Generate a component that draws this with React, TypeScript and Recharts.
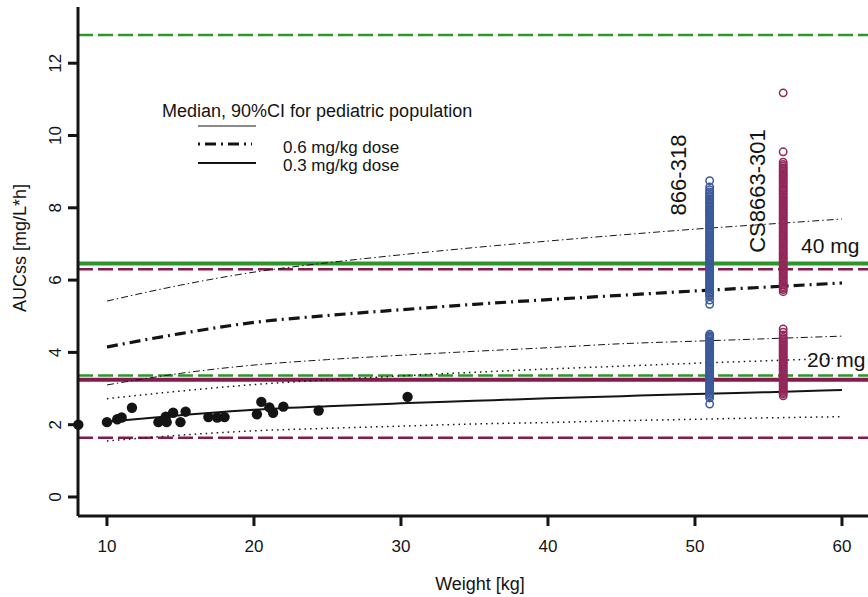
import { ComposedChart, Line, ReferenceLine, Scatter, XAxis, YAxis } from 'recharts'

const FONT = '"Liberation Sans", Arial, Helvetica, sans-serif'
const INK = '#141414'
const GREEN = '#2c962c'
const MAROON = '#861a4e'
const BLUE_RING = '#3b5a9a'
const ROSE_RING = '#92285a'

const X_TICKS = [10, 20, 30, 40, 50, 60]
const Y_TICKS = [0, 2, 4, 6, 8, 10, 12]
const X_DOMAIN: [number, number] = [8.03, 61.77]
const Y_DOMAIN: [number, number] = [-0.526, 13.555]

// simulated pediatric curves (weight grid shared by all six)
const CURVE_WEIGHTS = [10, 15, 20, 25, 30, 35, 40, 45, 50, 55, 60]
const MEDIAN_06 = [4.15, 4.52, 4.83, 5.02, 5.18, 5.33, 5.46, 5.58, 5.7, 5.81, 5.92]
const UPPER_06 = [5.42, 5.86, 6.22, 6.48, 6.7, 6.9, 7.08, 7.25, 7.41, 7.55, 7.69]
const LOWER_06 = [3.1, 3.42, 3.65, 3.8, 3.92, 4.03, 4.13, 4.24, 4.31, 4.38, 4.45]
const MEDIAN_03 = [2.08, 2.26, 2.41, 2.51, 2.59, 2.66, 2.73, 2.79, 2.85, 2.9, 2.96]
const UPPER_03 = [2.72, 2.93, 3.11, 3.24, 3.35, 3.45, 3.54, 3.62, 3.7, 3.77, 3.84]
const LOWER_03 = [1.55, 1.71, 1.83, 1.9, 1.96, 2.02, 2.06, 2.11, 2.15, 2.19, 2.22]

// observed pediatric subjects
const OBS_WEIGHT = [8.05, 10.0, 10.7, 11.0, 11.7, 13.5, 14.0, 14.06, 14.5, 15.0, 15.35, 16.9, 17.5, 18.0, 20.2, 20.5, 21.05, 21.3, 22.0, 24.4, 30.45]
const OBS_AUC = [2.0, 2.07, 2.15, 2.2, 2.47, 2.07, 2.22, 2.07, 2.33, 2.07, 2.36, 2.21, 2.2, 2.21, 2.29, 2.63, 2.48, 2.33, 2.5, 2.39, 2.77]

// adult studies, plotted at a nominal weight
const STUDY_318_WEIGHT = 51.0
const STUDY_318_40MG = [
  8.75, 8.58, 8.5, 8.44, 8.39, 8.34, 8.3, 8.25, 8.22, 8.17, 8.14, 8.09, 8.05, 8.01, 7.97, 7.93, 7.9, 7.86, 7.82, 7.78, 7.74, 7.7,
  7.66, 7.61, 7.57, 7.53, 7.5, 7.45, 7.41, 7.37, 7.33, 7.29, 7.25, 7.21, 7.17, 7.13, 7.09, 7.04, 7.0, 6.96, 6.92, 6.88, 6.84, 6.8,
  6.76, 6.72, 6.68, 6.64, 6.6, 6.56, 6.52, 6.48, 6.44, 6.4, 6.36, 6.31, 6.27, 6.23, 6.19, 6.15, 6.11, 6.07, 6.03, 5.99, 5.95, 5.91,
  5.87, 5.83, 5.79, 5.75, 5.71, 5.67, 5.63, 5.59, 5.55, 5.45, 5.33,
]
const STUDY_318_20MG = [
  4.5, 4.46, 4.43, 4.39, 4.36, 4.32, 4.28, 4.24, 4.2, 4.16, 4.12, 4.08, 4.04, 4.0, 3.97, 3.93, 3.89, 3.85, 3.81, 3.77, 3.73, 3.7,
  3.66, 3.62, 3.58, 3.54, 3.5, 3.46, 3.42, 3.38, 3.35, 3.31, 3.27, 3.23, 3.19, 3.15, 3.11, 3.07, 3.04, 3.0, 2.96, 2.92, 2.88, 2.84,
  2.8, 2.74, 2.57,
]
const STUDY_301_WEIGHT = 56.0
const STUDY_301_40MG = [
  11.18, 9.55, 9.26, 9.2, 9.15, 9.1, 9.06, 9.01, 8.97, 8.92, 8.88, 8.84, 8.8, 8.75, 8.71, 8.66, 8.62, 8.57, 8.53, 8.49, 8.45, 8.4,
  8.36, 8.31, 8.27, 8.22, 8.18, 8.14, 8.1, 8.05, 8.01, 7.96, 7.92, 7.88, 7.83, 7.79, 7.75, 7.7, 7.66, 7.61, 7.57, 7.53, 7.48, 7.44,
  7.4, 7.35, 7.31, 7.26, 7.22, 7.18, 7.13, 7.09, 7.05, 7.0, 6.96, 6.91, 6.87, 6.83, 6.78, 6.74, 6.7, 6.65, 6.61, 6.57, 6.52, 6.48,
  6.43, 6.39, 6.35, 6.3, 6.26, 6.21, 6.17, 6.13, 6.08, 6.04, 6.0, 5.95, 5.91, 5.87, 5.82, 5.78, 5.74, 5.68,
]
const STUDY_301_20MG = [
  4.65, 4.56, 4.48, 4.41, 4.37, 4.33, 4.29, 4.25, 4.21, 4.17, 4.13, 4.09, 4.05, 4.01, 3.97, 3.93, 3.89, 3.85, 3.81, 3.77, 3.73,
  3.69, 3.65, 3.61, 3.57, 3.53, 3.49, 3.45, 3.41, 3.37, 3.33, 3.29, 3.25, 3.21, 3.17, 3.13, 3.09, 3.05, 3.01, 2.97, 2.93, 2.89,
  2.85, 2.8,
]

// adult reference levels: 90% range (dashed) and median (solid)
const ADULT_40MG = { high: 12.78, median: 6.46, low: 6.3 }
const ADULT_20MG = { high: 3.36, median: 3.24, low: 1.64 }

const curve = (vals: number[]) => CURVE_WEIGHTS.map((w, i) => ({ w, v: vals[i] }))
const column = (w: number, vals: number[]) => vals.map((v) => ({ w, v }))
const observed = OBS_WEIGHT.map((w, i) => ({ w, v: OBS_AUC[i] }))

const filledDot = (p: any) => <circle cx={p.cx} cy={p.cy} r={5.2} fill={INK} />
const ring = (color: string) => (p: any) => <circle cx={p.cx} cy={p.cy} r={3.7} fill="none" stroke={color} strokeWidth={1.5} />

function YTick({ x, y, payload }: any) {
  const tx = x - 5
  return (
    <text x={tx} y={y} transform={`rotate(-90 ${tx} ${y})`} textAnchor="middle" fontSize={17} fontFamily={FONT} fill={INK}>
      {payload.value}
    </text>
  )
}

const TICK_STYLE = { fontSize: 17, fontFamily: FONT, fill: INK }
const FRAME = { stroke: INK, strokeWidth: 3 }

function Annotations() {
  const t = { fontFamily: FONT, fill: INK }
  return (
    <svg width={868} height={597} style={{ position: 'absolute', left: 0, top: 0, pointerEvents: 'none' }}>
      <text x={26} y={248} transform="rotate(-90 26 248)" textAnchor="middle" fontSize={18} {...t}>AUCss [mg/L*h]</text>
      <text x={480} y={590} textAnchor="middle" fontSize={18} {...t}>Weight [kg]</text>

      <text x={162} y={117} fontSize={18} {...t}>Median, 90%CI for pediatric population</text>
      <line x1={198} x2={256} y1={126} y2={126} stroke={INK} strokeWidth={1} />
      <line x1={198} x2={252} y1={144} y2={144} stroke={INK} strokeWidth={3.2} strokeDasharray="2 5 11 5" />
      <line x1={198} x2={256} y1={163} y2={163} stroke={INK} strokeWidth={2} />
      <text x={283} y={153} fontSize={17} {...t}>0.6 mg/kg dose</text>
      <text x={283} y={171} fontSize={17} {...t}>0.3 mg/kg dose</text>

      <text x={686} y={175} transform="rotate(-90 686 175)" textAnchor="middle" fontSize={22} {...t}>866-318</text>
      <text x={765} y={191} transform="rotate(-90 765 191)" textAnchor="middle" fontSize={22} {...t}>CS8663-301</text>
      <text x={801} y={253} fontSize={21} {...t}>40 mg</text>
      <text x={807} y={367} fontSize={21} {...t}>20 mg</text>
    </svg>
  )
}

export default function App() {
  return (
    <div style={{ position: 'absolute', left: 0, top: 0, width: 868, height: 597, background: '#fff' }}>
      <ComposedChart width={868} height={597} margin={{ top: 7, right: 0, left: 0, bottom: 0 }}>
        <XAxis
          dataKey="w"
          type="number"
          domain={X_DOMAIN}
          ticks={X_TICKS}
          height={81}
          tickSize={10}
          tickMargin={14}
          tick={TICK_STYLE}
          axisLine={FRAME}
          tickLine={FRAME}
        />
        <XAxis xAxisId="top" orientation="top" type="number" domain={X_DOMAIN} height={0} tick={false} tickLine={false} axisLine={FRAME} />
        <YAxis
          dataKey="v"
          type="number"
          domain={Y_DOMAIN}
          ticks={Y_TICKS}
          width={78}
          tickSize={10}
          tickMargin={2}
          tick={<YTick />}
          axisLine={FRAME}
          tickLine={FRAME}
        />

        <ReferenceLine y={ADULT_40MG.high} stroke={GREEN} strokeWidth={2.4} strokeDasharray="15 5" />
        <ReferenceLine y={ADULT_40MG.median} stroke={GREEN} strokeWidth={4} />
        <ReferenceLine y={ADULT_40MG.low} stroke={MAROON} strokeWidth={2.4} strokeDasharray="15 5" />
        <ReferenceLine y={ADULT_20MG.high} stroke={GREEN} strokeWidth={2.4} strokeDasharray="15 5" />
        <ReferenceLine y={ADULT_20MG.median} stroke={MAROON} strokeWidth={4} />
        <ReferenceLine y={ADULT_20MG.low} stroke={MAROON} strokeWidth={2.4} strokeDasharray="15 5" />

        <Line data={curve(UPPER_06)} dataKey="v" type="monotone" stroke={INK} strokeWidth={1} strokeDasharray="7 3 1.5 3" dot={false} isAnimationActive={false} />
        <Line data={curve(MEDIAN_06)} dataKey="v" type="monotone" stroke={INK} strokeWidth={3.2} strokeDasharray="11 5 2 5" dot={false} isAnimationActive={false} />
        <Line data={curve(LOWER_06)} dataKey="v" type="monotone" stroke={INK} strokeWidth={1} strokeDasharray="7 3 1.5 3" dot={false} isAnimationActive={false} />
        <Line data={curve(UPPER_03)} dataKey="v" type="monotone" stroke={INK} strokeWidth={1.5} strokeDasharray="1.5 4" dot={false} isAnimationActive={false} />
        <Line data={curve(MEDIAN_03)} dataKey="v" type="monotone" stroke={INK} strokeWidth={2} dot={false} isAnimationActive={false} />
        <Line data={curve(LOWER_03)} dataKey="v" type="monotone" stroke={INK} strokeWidth={1.5} strokeDasharray="1.5 4" dot={false} isAnimationActive={false} />

        <Scatter data={column(STUDY_318_WEIGHT, STUDY_318_40MG)} dataKey="v" shape={ring(BLUE_RING)} isAnimationActive={false} />
        <Scatter data={column(STUDY_318_WEIGHT, STUDY_318_20MG)} dataKey="v" shape={ring(BLUE_RING)} isAnimationActive={false} />
        <Scatter data={column(STUDY_301_WEIGHT, STUDY_301_40MG)} dataKey="v" shape={ring(ROSE_RING)} isAnimationActive={false} />
        <Scatter data={column(STUDY_301_WEIGHT, STUDY_301_20MG)} dataKey="v" shape={ring(ROSE_RING)} isAnimationActive={false} />
        <Scatter data={observed} dataKey="v" shape={filledDot} isAnimationActive={false} />
      </ComposedChart>
      <Annotations />
    </div>
  )
}
